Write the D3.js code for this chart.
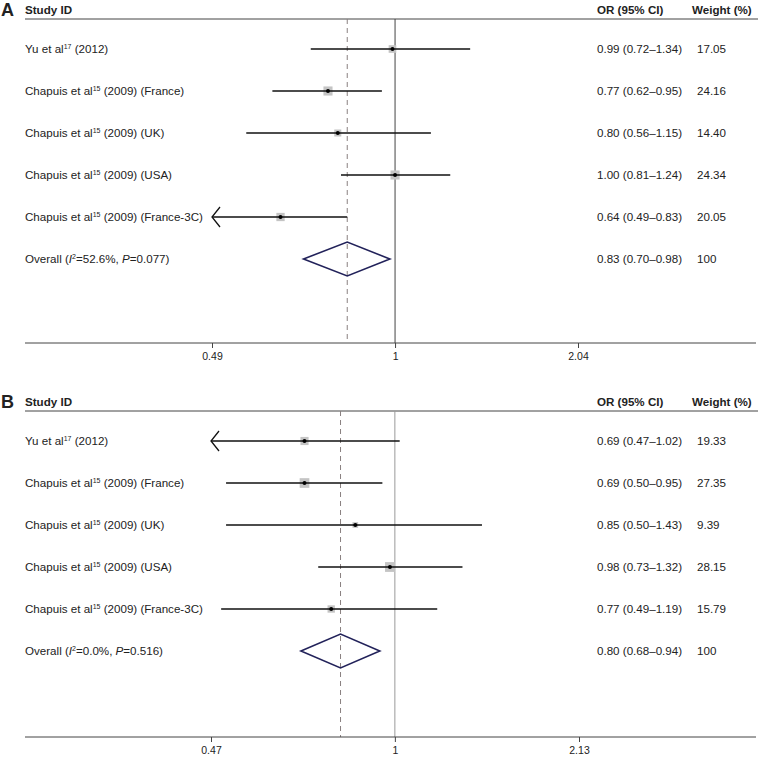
<!DOCTYPE html>
<html><head><meta charset="utf-8">
<script src="https://cdn.jsdelivr.net/npm/d3@7"></script>
<style>body{margin:0;background:#fff}svg{display:block}text{font-family:"Liberation Sans",Arial,sans-serif;fill:#222}</style>
</head><body>
<script>
// ---- data ----
const studyNames = ["Yu et al", "Chapuis et al", "Chapuis et al", "Chapuis et al", "Chapuis et al"];
const studyRefs = ["17", "15", "15", "15", "15"];
const studySuffix = [" (2012)", " (2009) (France)", " (2009) (UK)", " (2009) (USA)", " (2009) (France-3C)"];

const orA = [0.99, 0.77, 0.80, 1.00, 0.64];
const lowA = [0.72, 0.62, 0.56, 0.81, 0.49];
const highA = [1.34, 0.95, 1.15, 1.24, 0.83];
const weightA = [17.05, 24.16, 14.40, 24.34, 20.05];
const overallA = {or: 0.83, low: 0.70, high: 0.98, i2: "52.6%", p: "0.077"};
const ticksA = [0.49, 1, 2.04];
const arrowA = [false, false, false, false, true];

const orB = [0.69, 0.69, 0.85, 0.98, 0.77];
const lowB = [0.47, 0.50, 0.50, 0.73, 0.49];
const highB = [1.02, 0.95, 1.43, 1.32, 1.19];
const weightB = [19.33, 27.35, 9.39, 28.15, 15.79];
const overallB = {or: 0.80, low: 0.68, high: 0.94, i2: "0.0%", p: "0.516"};
const ticksB = [0.47, 1, 2.13];
const arrowB = [true, false, false, false, false];

const W = 758, H = 757;
const FS = 11.6;
const svg = d3.select("body").append("svg").attr("width", W).attr("height", H);
const f2 = d3.format(".2f");

function panel(cfg) {
  const g = svg.append("g").attr("transform", `translate(0,${cfg.top})`);
  const x = d3.scaleLog().domain([cfg.ticks[0], cfg.ticks[2]]).range([cfg.tx0, cfg.tx1]);
  const rowY = i => 49 + i * 42;
  const headerLineY = 19, axisY = cfg.axisY;

  g.append("text").attr("x", 1).attr("y", 16).attr("font-size", 18).attr("font-weight", "bold").attr("fill", "#111").text(cfg.letter);
  g.append("text").attr("x", 25).attr("y", 14).attr("font-size", FS).attr("font-weight", "bold").text("Study ID");
  g.append("text").attr("x", 597).attr("y", 14).attr("font-size", FS).attr("font-weight", "bold").text("OR (95% CI)");
  g.append("text").attr("x", 692).attr("y", 14).attr("font-size", FS).attr("font-weight", "bold").text("Weight (%)");
  g.append("line").attr("x1", 25).attr("x2", W).attr("y1", headerLineY).attr("y2", headerLineY).attr("stroke", "#444").attr("stroke-width", 1);

  // reference lines
  g.append("line").attr("x1", x(1)).attr("x2", x(1)).attr("y1", headerLineY).attr("y2", axisY).attr("stroke", cfg.refColor).attr("stroke-width", 1);
  g.append("line").attr("x1", x(cfg.overall.or)).attr("x2", x(cfg.overall.or)).attr("y1", headerLineY).attr("y2", axisY)
    .attr("stroke", "#8a8080").attr("stroke-width", 1).attr("stroke-dasharray", "5,4");

  const n = cfg.or.length;
  const lo = x.domain()[0];
  for (let i = 0; i < n; i++) {
    const y = rowY(i);
    const t = g.append("text").attr("x", 25).attr("y", y).attr("dy", "0.35em").attr("font-size", FS);
    t.append("tspan").text(studyNames[i]);
    t.append("tspan").attr("font-size", 7).attr("dy", -4).text(studyRefs[i]);
    t.append("tspan").attr("dy", 4).text(studySuffix[i]);

    const l = Math.max(cfg.low[i], lo);
    const s = 1.85 * Math.sqrt(cfg.weight[i]);
    g.append("rect").attr("x", x(cfg.or[i]) - s / 2).attr("y", y - s / 2).attr("width", s).attr("height", s).attr("fill", "#c4c4c4");
    g.append("line").attr("x1", x(l)).attr("x2", x(cfg.high[i])).attr("y1", y).attr("y2", y).attr("stroke", "#111").attr("stroke-width", 1.3);
    if (cfg.arrow[i]) {
      g.append("path").attr("d", `M${x(lo) + 8},${y - 10}L${x(lo)},${y}L${x(lo) + 8},${y + 10}`).attr("fill", "none").attr("stroke", "#111").attr("stroke-width", 1.3);
    }
    g.append("circle").attr("cx", x(cfg.or[i])).attr("cy", y).attr("r", 2).attr("fill", "#000");

    g.append("text").attr("x", 597).attr("y", y).attr("dy", "0.35em").attr("font-size", FS)
      .text(`${f2(cfg.or[i])} (${f2(cfg.low[i])}\u2013${f2(cfg.high[i])})`);
    g.append("text").attr("x", 697).attr("y", y).attr("dy", "0.35em").attr("font-size", FS).text(f2(cfg.weight[i]));
  }
  // overall
  const oy = rowY(n);
  const o = cfg.overall;
  const t = g.append("text").attr("x", 25).attr("y", oy).attr("dy", "0.35em").attr("font-size", FS);
  t.append("tspan").text("Overall (");
  t.append("tspan").attr("font-style", "italic").text("I");
  t.append("tspan").attr("font-size", 7).attr("dy", -4).text("2");
  t.append("tspan").attr("dy", 4).text(`=${o.i2}, `);
  t.append("tspan").attr("font-style", "italic").text("P");
  t.append("tspan").text(`=${o.p})`);
  g.append("path").attr("d", `M${x(o.low)},${oy}L${x(o.or)},${oy - 17}L${x(o.high)},${oy}L${x(o.or)},${oy + 17}Z`)
    .attr("fill", "none").attr("stroke", "#22225a").attr("stroke-width", 1.6);
  g.append("text").attr("x", 597).attr("y", oy).attr("dy", "0.35em").attr("font-size", FS)
    .text(`${f2(o.or)} (${f2(o.low)}\u2013${f2(o.high)})`);
  g.append("text").attr("x", 697).attr("y", oy).attr("dy", "0.35em").attr("font-size", FS).text("100");

  // axis
  const axis = d3.axisBottom(x).tickValues(cfg.ticks).tickFormat(d => String(d)).tickSize(5).tickPadding(5);
  const ax = g.append("g").attr("transform", `translate(0,${axisY})`).call(axis);
  ax.select(".domain").remove();
  ax.selectAll(".tick line").attr("stroke", "#444");
  ax.selectAll(".tick text").attr("font-size", 10.5).attr("fill", "#333").attr("font-family", "'Liberation Sans',Arial,sans-serif");
  g.append("line").attr("x1", 25).attr("x2", 756).attr("y1", axisY).attr("y2", axisY).attr("stroke", "#444").attr("stroke-width", 1);
}

panel({letter: "A", top: 0, axisY: 343, ticks: ticksA, tx0: 212, tx1: 578, or: orA, low: lowA, high: highA, weight: weightA, overall: overallA, arrow: arrowA, refColor: "#444"});
panel({letter: "B", top: 392, axisY: 345, ticks: ticksB, tx0: 211, tx1: 579, or: orB, low: lowB, high: highB, weight: weightB, overall: overallB, arrow: arrowB, refColor: "#999"});
</script>
</body></html>
